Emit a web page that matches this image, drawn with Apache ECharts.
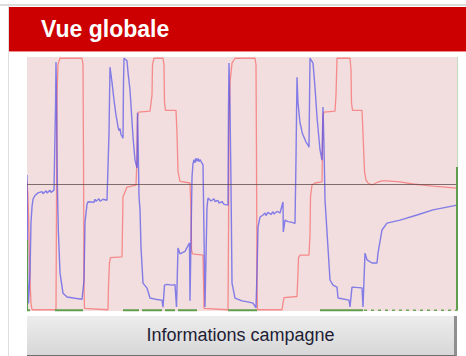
<!DOCTYPE html>
<html>
<head>
<meta charset="utf-8">
<title>Vue globale</title>
<script src="https://cdn.jsdelivr.net/npm/echarts@6/dist/echarts.min.js"></script>
<style>
  html, body { margin: 0; padding: 0; background: #ffffff; }
  body { width: 466px; height: 356px; position: relative; overflow: hidden; font-family: Arial, "Liberation Sans", sans-serif; }
  .topline { position: absolute; left: 0; top: 4px; width: 466px; height: 2px; background: #dcdcdc; }
  .leftline { position: absolute; left: 8px; top: 5px; width: 1px; height: 351px; background: #dedede; }
  .header { position: absolute; left: 9px; top: 7px; width: 457px; height: 45px; background: #cc0000;
            border-bottom: 1px solid #ec8d8d; color: #fff; font-weight: bold; font-size: 23px;
            line-height: 45px; padding-left: 32px; box-sizing: border-box; }
  #chart { position: absolute; left: 27px; top: 57px; width: 432px; height: 255px; }
  .btn { position: absolute; left: 27px; top: 316px; width: 430px; height: 40px; box-sizing: border-box;
         background: linear-gradient(#ededed, #d7d7d7); border-right: 3px solid #8f8f8f; border-bottom: 1px solid #6f6f6f;
         color: #1d1d35; font-size: 18px; line-height: 38px; text-align: center; }
</style>
</head>
<body>
<div class="topline"></div>
<div class="leftline"></div>
<div class="header">Vue globale</div>
<div id="chart"></div>
<div class="btn">Informations campagne</div>
<script>
// Campaign overview: time (t) against signal level in percent.
const tRange = [0, 430];
const levelRange = [0, 100];
const referenceLevel = 50;

// Setpoint (red)
const setpoint = [
  [0,51],[1,45],[2,30],[3,12],[4,3],[5,0.5],[29,0.5],[29.5,40],[30,85],[31,97],[33,99.5],[55,99.5],
  [56,97],[56.5,60],[57,10],[57.5,1],[58,0.5],[81,0.5],[81.5,10],[82.5,19],[83.5,21],[95,21.3],
  [96,45],[100,48.8],[109,49.6],[110,60],[110.5,76],[111.5,78.3],[123,78.7],
  [125,85],[125.5,97],[127,99.5],[136,99.5],[137,97],[137.5,82],[138.5,79],[149,79],
  [150,70],[151,55],[153,51],[163,50.4],[164,40],[164.5,24],[165.5,22.5],[176,22],
  [176.5,12],[177,1],[177.5,0.5],[201,0.5],[201.5,30],[202,70],[203,90],[205,97.6],[208,99.5],[228,99.5],
  [229,97],[229.5,60],[230,10],[230.5,0.5],[255,0.5],[256,3],[257,5.3],[258,5.5],[270,5.7],
  [271,15],[271.5,21],[273,22],[282,22],[283,30],[283.5,45],[285,49.6],[288,50.4],[295,50.8],
  [295.5,65],[296,77],[297,78.3],[308,78.7],[309,85],[310,99.5],[323,99.5],
  [324,95],[324.5,82],[325.5,79],[335,79],[336,70],[337.5,55],[339,51.5],[341,50.4],
  [342,49.8],[345,49.6],[350,50.6],[355,51.2],[360,51.2],[373,50.8],[386,50],[406,49.2],[430,48.4]
];

// Measured value (blue)
const measured = [
  [0,53.5],[0.3,40],[0.8,10],[1.5,3],[2.5,3],[3,15],[4,35],[5,41],[6,44],[8,45.5],[9,45],[11,46.5],[12,45.8],
  [13,46.6],[15,47],[16,46.2],[17,46.8],[19,47.3],[20,46.5],[21,47.1],[23,47.5],[24,46.7],[25,47.2],[27,47.6],[28,47],
  [28.5,80],[29,98],[29.5,85],[30.3,51],[31.3,32],[33,15],[36,7],[40,5.5],[48,5],[55,4.6],
  [56,4.5],[57,12],[58,35],[60,42],[61,43],[63,43.7],[64,42.9],[66,43.6],[67,42.8],[68,44],[69,43.2],[70,43.8],
  [72,44.2],[73,43.2],[74,43.9],[76,44],[77,43.3],[78,43.9],[80,43.6],[81,43],
  [82,70],[83,96],[85,90],[87,83],[89,77],[90,75],[91,72.5],[92,71],[93,71.8],[94,69.5],[95,70.2],[96,68],
  [96.5,90],[97,99.5],[98.5,99],[100,98.5],[101,94],[103,87],[106,68.5],[108,59.4],[110,56.3],
  [110.5,78],[111,70],[112,45],[113,40],[114,25],[116,11],[120,9],[123,5.1],[130,4.5],[135,4.3],
  [136,1.5],[137.5,10.2],[140,10.5],[145,10.2],[148,10.4],[149.5,1.6],[151,24.8],[153,22.5],[155,22],
  [158,23.5],[160,24],[162.5,26.8],[163,4],[165,52.8],[166,58],[167,59.6],[168,58.3],[169,60.2],[170,58.9],
  [171,60.1],[172,58.8],[173,59.6],[174,58.9],[175,59.4],[176,57.5],[177,30],[178,1.6],
  [180,40.9],[181,44.5],[182,43.8],[183,44.4],[184,43.3],[185,43.9],[186,43],[187,44.2],[188,43.1],[189,43.4],
  [190,42.6],[191,43.5],[192,42.5],[193,43],[194,42.2],[195,43.1],[196,42.4],[197,42],[198,42.6],[199,42.3],[201,41.7],
  [201.5,80],[202,97.6],[203,80],[204,50],[205,11],[208,5.1],[215,4],[222,3.5],[226,3.1],[229,1.2],
  [230,15],[231,33],[233,37],[234,36.5],[236,37.8],[237,37.2],[238,38.6],[239,37.6],[240,37.9],[241,38.8],
  [242,38.1],[243,38.9],[244,38],[245,38.7],[246,39.1],[247,38.2],[248,38.8],[249,38.3],[250,39.2],[251,38.5],
  [252,38.9],[253,38.6],[255,38.2],[256,42.9],[256.3,31.1],[258,35.8],[259,35.2],[260,35.9],[261,35.2],
  [262,35.7],[264,35],[265,35.6],[266,35],[268,34.5],
  [269,60],[270,92],[271,82],[273,74],[274,72.5],[275,70.5],[276,69.3],[277,69.8],[278,67.5],[279,66.5],
  [280,67.2],[281,65.4],[282,64.5],[283,99.6],[285,99],[286,97.6],[288,88],[290,76.4],[293,63.4],[295,59.4],
  [296,80.3],[297,65],[298,43.7],[303,12.2],[306,10.2],[310,9.4],[311,5.1],[322,4.3],[323,1.6],[325,9.4],
  [335,9.1],[336,1.6],[338,22.8],[340,20.1],[345,18.9],[350,18.9],[351,22.8],[355,31.9],[360,34.6],
  [373,35.8],[390,37.8],[406,39.8],[420,40.9],[430,41.7]
];

// Valve state (green), '-' marks the gaps where the valve is closed
const valveState = [
  [0,28],[0,0.3],[3,0.3],[3,'-'],
  [28,0.3],[56,0.3],[56,'-'],
  [96,0.3],[112,0.3],[112,'-'],[115,0.3],[135,0.3],[135,'-'],[138,0.3],[148,0.3],[148,'-'],[151,0.3],[170,0.3],[170,'-'],
  [201,0.3],[230,0.3],[230,'-'],
  [293,0.3],[336,0.3],[336,'-'],
  [430,0.3],[430,56.7]
];
// Short valve pulses at the end of the campaign
const valvePulses = [
  [337,0.3],[430,0.3]
];

const chart = echarts.init(document.getElementById('chart'), null, { renderer: 'canvas' });
chart.setOption({
  animation: false,
  grid: { left: 0, right: 2, top: 0, bottom: 1, show: true, backgroundColor: '#f2dede', borderWidth: 0 },
  xAxis: {
    type: 'value', min: tRange[0], max: tRange[1],
    axisLine: { show: false }, axisTick: { show: false }, axisLabel: { show: false }, splitLine: { show: false }
  },
  yAxis: [
    { type: 'value', min: levelRange[0], max: levelRange[1],
      axisLine: { show: false }, axisTick: { show: false }, axisLabel: { show: false }, splitLine: { show: false } },
    { type: 'value', position: 'right', min: levelRange[0], max: levelRange[1],
      axisLine: { show: true, lineStyle: { color: '#c3dbb8', width: 1 } },
      axisTick: { show: false }, axisLabel: { show: false }, splitLine: { show: false } }
  ],
  series: [
    {
      name: 'Consigne', type: 'line', data: setpoint, showSymbol: false, clip: false, z: 3,
      lineStyle: { color: 'rgba(250,70,70,0.55)', width: 1.3 }
    },
    {
      name: 'Mesure', type: 'line', data: measured, showSymbol: false, clip: false, z: 4,
      lineStyle: { color: 'rgba(70,70,235,0.65)', width: 1.4 }
    },
    {
      name: 'Vanne', type: 'line', data: valveState, showSymbol: false, clip: false, z: 5,
      lineStyle: { color: '#5f9f4c', width: 2 }
    },
    {
      name: 'Vanne (impulsions)', type: 'line', data: valvePulses, showSymbol: false, clip: false, z: 5,
      lineStyle: { color: '#6aa858', width: 1.6, type: [3, 4] }
    },
    {
      name: 'Référence', type: 'line', data: [], z: 6,
      markLine: {
        silent: true, symbol: 'none', label: { show: false },
        lineStyle: { color: 'rgba(90,70,70,0.75)', width: 1.2, type: 'solid' },
        data: [{ yAxis: referenceLevel }]
      }
    }
  ]
});
</script>
</body>
</html>
